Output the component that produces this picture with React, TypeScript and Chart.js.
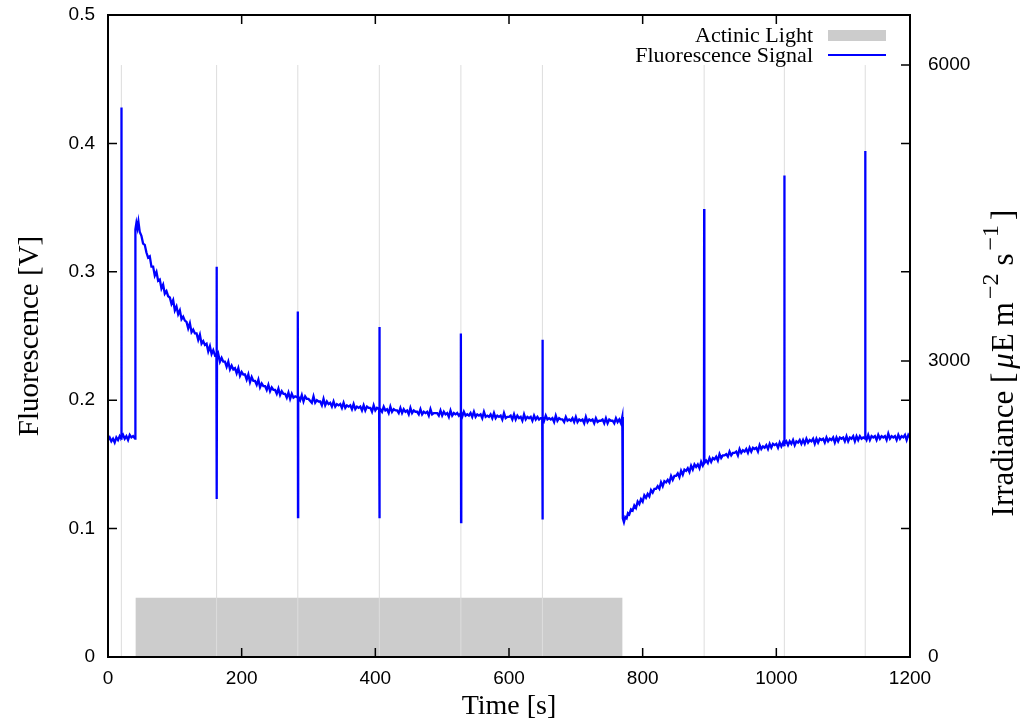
import React, { useEffect, useRef } from "react";
import { Chart, registerables } from "chart.js";
Chart.register(...registerables);

// ---- data ----
const xTickValues = [0, 200, 400, 600, 800, 1000, 1200];
const fluorTickValues = [0, 0.1, 0.2, 0.3, 0.4, 0.5];
const irradTickValues = [0, 3000, 6000];

const pulseTimes = [20, 162.5, 284, 406, 528, 650, 892, 1012, 1133];
const pulseLevel = 6000;
const actinicOn = 41;
const actinicOff = 770;
const actinicLevel = 600;

// [time s, fluorescence V]
const darkPhase: [number, number][] = [
  [0, 0.169], [2.5, 0.171], [5, 0.168], [7.5, 0.17], [10, 0.167], [12.5, 0.171], [15, 0.169],
  [17.5, 0.172], [19.7, 0.17], [20, 0.428], [20.4, 0.171], [22.5, 0.173], [25, 0.17], [27.5, 0.172],
  [30, 0.169], [32.5, 0.173], [35, 0.171], [37.5, 0.172], [40.5, 0.17],
];

const lightPhase: [number, number][] = [
  [41, 0.333], [42.5, 0.338], [44, 0.334], [45.5, 0.339], [47.5, 0.331], [50, 0.328], [52.5, 0.322],
  [55, 0.321], [57.5, 0.315], [60, 0.311], [62.5, 0.312], [65, 0.304], [67.5, 0.304], [70, 0.297],
  [72.5, 0.3], [75, 0.293], [77.5, 0.294], [80, 0.287], [82.5, 0.29], [85, 0.283], [87.5, 0.285],
  [90, 0.281], [92.5, 0.28], [95, 0.275], [97.5, 0.278], [100, 0.27], [102.5, 0.273], [105, 0.267],
  [107.5, 0.27], [110, 0.263], [112.5, 0.265], [115, 0.262], [117.5, 0.261], [120, 0.256],
  [122.5, 0.26], [125, 0.253], [127.5, 0.255], [130, 0.252], [132.5, 0.252], [135, 0.247],
  [137.5, 0.251], [140, 0.244], [142.5, 0.246], [145, 0.243], [147.5, 0.244], [150, 0.238],
  [152.5, 0.242], [155, 0.236], [157.5, 0.239], [160, 0.235], [162.2, 0.236], [162.5, 0.304],
  [162.8, 0.123], [163.1, 0.233], [165, 0.236], [167.5, 0.23], [170, 0.233], [172.5, 0.23],
  [175, 0.23], [177.5, 0.226], [180, 0.23], [182.5, 0.224], [185, 0.227], [187.5, 0.224],
  [190, 0.225], [192.5, 0.221], [195, 0.225], [197.5, 0.219], [200, 0.222], [202.5, 0.22],
  [205, 0.22], [207.5, 0.216], [210, 0.22], [212.5, 0.214], [215, 0.218], [217.5, 0.215],
  [220, 0.215], [222.5, 0.212], [225, 0.216], [227.5, 0.21], [230, 0.213], [232.5, 0.211],
  [235, 0.211], [237.5, 0.208], [240, 0.212], [242.5, 0.207], [245, 0.21], [247.5, 0.208],
  [250, 0.208], [252.5, 0.205], [255, 0.209], [257.5, 0.204], [260, 0.207], [262.5, 0.205],
  [265, 0.205], [267.5, 0.202], [270, 0.206], [272.5, 0.201], [275, 0.205], [277.5, 0.202],
  [280, 0.203], [283.7, 0.202], [284, 0.269], [284.3, 0.109], [284.6, 0.203], [287.5, 0.2],
  [290, 0.204], [292.5, 0.199], [295, 0.203], [297.5, 0.201], [300, 0.201], [305, 0.198], [307.5, 0.203],
  [310, 0.198], [312.5, 0.2], [315, 0.199], [317.5, 0.199], [320, 0.196], [322.5, 0.201], [325, 0.196],
  [327.5, 0.199], [330, 0.197], [332.5, 0.198], [335, 0.195], [337.5, 0.199], [340, 0.195],
  [342.5, 0.197], [345, 0.196], [347.5, 0.197], [350, 0.194], [352.5, 0.198], [355, 0.194],
  [357.5, 0.196], [360, 0.195], [362.5, 0.196], [365, 0.193], [367.5, 0.197], [370, 0.193],
  [372.5, 0.195], [375, 0.194], [377.5, 0.195], [380, 0.192], [382.5, 0.196], [385, 0.192],
  [387.5, 0.195], [390, 0.194], [392.5, 0.194], [395, 0.191], [397.5, 0.196], [400, 0.192],
  [402.5, 0.194], [405.7, 0.193], [406, 0.257], [406.3, 0.108], [406.6, 0.194], [410, 0.191],
  [412.5, 0.195], [415, 0.192], [417.5, 0.193], [420, 0.19], [422.5, 0.195], [425, 0.191],
  [427.5, 0.193], [430, 0.192], [432.5, 0.192], [435, 0.19], [437.5, 0.194], [440, 0.19],
  [442.5, 0.193], [445, 0.191], [447.5, 0.192], [450, 0.189], [452.5, 0.194], [455, 0.19],
  [457.5, 0.192], [460, 0.191], [462.5, 0.191], [465, 0.189], [467.5, 0.193], [470, 0.189],
  [472.5, 0.191], [475, 0.19], [477.5, 0.191], [480, 0.188], [482.5, 0.193], [485, 0.189],
  [487.5, 0.19], [490, 0.19], [492.5, 0.19], [495, 0.188], [497.5, 0.192], [500, 0.188],
  [502.5, 0.191], [505, 0.189], [507.5, 0.19], [510, 0.187], [512.5, 0.192], [515, 0.188],
  [517.5, 0.19], [520, 0.189], [522.5, 0.19], [525, 0.188], [527.7, 0.19], [528, 0.252],
  [528.3, 0.105], [528.6, 0.19], [530, 0.187], [532.5, 0.191], [535, 0.188], [537.5, 0.189],
  [540, 0.188], [542.5, 0.19], [545, 0.187], [547.5, 0.191], [550, 0.187], [552.5, 0.189],
  [555, 0.188], [557.5, 0.189], [560, 0.186], [562.5, 0.191], [565, 0.187], [567.5, 0.188],
  [570, 0.187], [572.5, 0.189], [575, 0.186], [577.5, 0.19], [580, 0.186], [582.5, 0.188],
  [585, 0.187], [587.5, 0.188], [590, 0.185], [592.5, 0.19], [595, 0.186], [597.5, 0.187],
  [600, 0.187], [602.5, 0.188], [605, 0.185], [607.5, 0.189], [610, 0.185], [612.5, 0.188],
  [615, 0.186], [617.5, 0.187], [620, 0.184], [622.5, 0.189], [625, 0.185], [627.5, 0.187],
  [630, 0.186], [632.5, 0.187], [635, 0.184], [637.5, 0.188], [640, 0.185], [642.5, 0.187],
  [645, 0.185], [647.5, 0.186], [649.7, 0.186], [650, 0.247], [650.3, 0.107], [650.6, 0.187],
  [652.5, 0.184], [655, 0.188], [657.5, 0.185], [660, 0.186], [662.5, 0.185], [665, 0.186],
  [667.5, 0.183], [670, 0.188], [672.5, 0.184], [675, 0.186], [677.5, 0.185], [680, 0.185],
  [682.5, 0.183], [685, 0.187], [687.5, 0.184], [690, 0.185], [692.5, 0.184], [695, 0.186],
  [697.5, 0.183], [700, 0.187], [702.5, 0.183], [705, 0.185], [707.5, 0.184], [710, 0.185],
  [712.5, 0.182], [715, 0.187], [717.5, 0.183], [720, 0.185], [722.5, 0.184], [725, 0.185],
  [727.5, 0.182], [730, 0.186], [732.5, 0.183], [735, 0.184], [737.5, 0.184], [740, 0.185],
  [742.5, 0.182], [745, 0.186], [747.5, 0.182], [750, 0.185], [752.5, 0.184], [755, 0.184],
  [757.5, 0.182], [760, 0.186], [762.5, 0.183], [765, 0.185], [767.5, 0.182], [769.5, 0.187],
];

const recoveryPhase: [number, number][] = [
  [770.3, 0.108], [772, 0.105], [774, 0.109], [776, 0.108], [778, 0.112], [780, 0.111],
  [782.5, 0.115], [785, 0.114], [787.5, 0.118], [790, 0.116], [792.5, 0.121], [795, 0.119],
  [797.5, 0.123], [800, 0.121], [802.5, 0.126], [805, 0.124], [807.5, 0.127], [810, 0.125],
  [812.5, 0.13], [815, 0.128], [817.5, 0.131], [820, 0.131], [822.5, 0.133], [825, 0.131],
  [827.5, 0.136], [830, 0.133], [832.5, 0.137], [835, 0.136], [837.5, 0.138], [840, 0.136],
  [842.5, 0.141], [845, 0.138], [847.5, 0.141], [850, 0.141], [852.5, 0.143], [855, 0.14],
  [857.5, 0.145], [860, 0.142], [862.5, 0.146], [865, 0.145], [867.5, 0.147], [870, 0.144],
  [872.5, 0.149], [875, 0.146], [877.5, 0.15], [880, 0.148], [882.5, 0.15], [885, 0.147],
  [887.5, 0.152], [890, 0.149], [891.7, 0.151], [892, 0.349], [892.3, 0.151], [895, 0.153],
  [897.5, 0.151], [900, 0.155], [902.5, 0.152], [905, 0.155], [907.5, 0.154], [910, 0.156],
  [912.5, 0.153], [915, 0.158], [917.5, 0.155], [920, 0.157], [922.5, 0.157], [925, 0.158],
  [927.5, 0.156], [930, 0.16], [932.5, 0.157], [935, 0.159], [937.5, 0.159], [940, 0.16],
  [942.5, 0.157], [945, 0.162], [947.5, 0.159], [950, 0.161], [952.5, 0.16], [955, 0.162],
  [957.5, 0.159], [960, 0.163], [962.5, 0.16], [965, 0.163], [967.5, 0.162], [970, 0.163],
  [972.5, 0.16], [975, 0.165], [977.5, 0.162], [980, 0.164], [982.5, 0.163], [985, 0.165],
  [987.5, 0.162], [990, 0.166], [992.5, 0.163], [995, 0.166], [997.5, 0.165], [1000, 0.166],
  [1002.5, 0.163], [1005, 0.167], [1007.5, 0.164], [1010, 0.167], [1011.7, 0.165], [1012, 0.375],
  [1012.3, 0.166], [1015, 0.168], [1017.5, 0.165], [1020, 0.168], [1022.5, 0.166], [1025, 0.169],
  [1027.5, 0.165], [1030, 0.168], [1032.5, 0.167], [1035, 0.169], [1037.5, 0.166], [1040, 0.169],
  [1042.5, 0.166], [1045, 0.17], [1047.5, 0.167], [1050, 0.169], [1052.5, 0.168], [1055, 0.17],
  [1057.5, 0.166], [1060, 0.17], [1062.5, 0.167], [1065, 0.17], [1067.5, 0.169], [1070, 0.17],
  [1072.5, 0.167], [1075, 0.171], [1077.5, 0.168], [1080, 0.17], [1082.5, 0.169], [1085, 0.171],
  [1087.5, 0.167], [1090, 0.171], [1092.5, 0.168], [1095, 0.171], [1097.5, 0.17], [1100, 0.171],
  [1102.5, 0.168], [1105, 0.172], [1107.5, 0.168], [1110, 0.171], [1112.5, 0.17], [1115, 0.172],
  [1117.5, 0.168], [1120, 0.172], [1122.5, 0.169], [1125, 0.172], [1127.5, 0.17], [1130, 0.171],
  [1132.7, 0.17], [1133, 0.394], [1133.3, 0.171], [1135, 0.169], [1137.5, 0.173], [1140, 0.169],
  [1142.5, 0.172], [1145, 0.171], [1147.5, 0.172], [1150, 0.169], [1152.5, 0.173], [1155, 0.17],
  [1157.5, 0.172], [1160, 0.171], [1162.5, 0.172], [1165, 0.169], [1167.5, 0.174], [1170, 0.17],
  [1172.5, 0.172], [1175, 0.171], [1177.5, 0.172], [1180, 0.169], [1182.5, 0.173], [1185, 0.17],
  [1187.5, 0.172], [1190, 0.171], [1192.5, 0.173], [1195, 0.169], [1197.5, 0.173], [1200, 0.171],
];

const SERIF = '"Liberation Serif", "Times New Roman", serif';
const SANS = '"Liberation Sans", Arial, sans-serif';

const framePlugin = {
  id: "frameTicks",
  afterDraw(chart: any) {
    const { ctx, chartArea } = chart;
    const { left, right, top, bottom } = chartArea;
    const sx = chart.scales.x;
    const sy = chart.scales.y;
    const sy2 = chart.scales.y2;
    const tl = 9;
    ctx.save();
    ctx.strokeStyle = "#000";
    ctx.lineWidth = 1.5;
    ctx.beginPath();
    for (const v of xTickValues) {
      const px = sx.getPixelForValue(v);
      ctx.moveTo(px, bottom);
      ctx.lineTo(px, bottom - tl);
      ctx.moveTo(px, top);
      ctx.lineTo(px, top + tl);
    }
    for (const v of fluorTickValues) {
      const py = sy.getPixelForValue(v);
      ctx.moveTo(left, py);
      ctx.lineTo(left + tl, py);
      ctx.moveTo(right, py);
      ctx.lineTo(right - tl, py);
    }
    for (const v of irradTickValues) {
      const py = sy2.getPixelForValue(v);
      ctx.moveTo(right, py);
      ctx.lineTo(right - tl, py);
    }
    ctx.stroke();
    ctx.lineWidth = 2;
    ctx.strokeRect(left, top, right - left, bottom - top);

    // legend
    const textRight = right - 97;
    const sampleL = right - 82;
    const sampleR = right - 24;
    ctx.font = `22px ${SERIF}`;
    ctx.fillStyle = "#000";
    ctx.textAlign = "right";
    ctx.textBaseline = "middle";
    ctx.fillText("Actinic Light", textRight, top + 21);
    ctx.fillText("Fluorescence Signal", textRight, top + 41);
    ctx.fillStyle = "#cccccc";
    ctx.fillRect(sampleL, top + 15, sampleR - sampleL, 11);
    ctx.strokeStyle = "#0000ff";
    ctx.lineWidth = 2;
    ctx.beginPath();
    ctx.moveTo(sampleL, top + 40);
    ctx.lineTo(sampleR, top + 40);
    ctx.stroke();

    // right axis title with superscripts, reading bottom-to-top
    const main = `31px ${SERIF}`;
    const ital = `italic 31px ${SERIF}`;
    const sup = `24px ${SERIF}`;
    const parts: { t: string; f: string; dy: number; gap: number }[] = [
      { t: "Irradiance [", f: main, dy: 0, gap: 4 },
      { t: "μ", f: ital, dy: 0, gap: 1 },
      { t: "E", f: main, dy: 0, gap: 7 },
      { t: "m", f: main, dy: 0, gap: 3 },
      { t: "−2", f: sup, dy: -13, gap: 8 },
      { t: "s", f: main, dy: 0, gap: 3 },
      { t: "−1", f: sup, dy: -13, gap: 5 },
      { t: "]", f: main, dy: 0, gap: 0 },
    ];
    let total = 0;
    for (const p of parts) {
      ctx.font = p.f;
      total += ctx.measureText(p.t).width + p.gap;
    }
    const cx = 1005;
    const cy = 363;
    ctx.translate(cx, cy);
    ctx.rotate(-Math.PI / 2);
    ctx.fillStyle = "#000";
    ctx.textAlign = "left";
    ctx.textBaseline = "middle";
    let x = -total / 2;
    for (const p of parts) {
      ctx.font = p.f;
      ctx.fillText(p.t, x, p.dy);
      x += ctx.measureText(p.t).width + p.gap;
    }
    ctx.restore();
  },
};

export default function App() {
  const ref = useRef<HTMLCanvasElement | null>(null);
  useEffect(() => {
    document.body.style.margin = "0";
    const fluor = [...darkPhase, ...lightPhase, ...recoveryPhase].map(([x, y]) => ({ x, y }));
    const actinic = [
      { x: actinicOn, y: actinicLevel },
      { x: actinicOff, y: actinicLevel },
    ];
    const pulses: { x: number; y: number | null }[] = [];
    for (const t of pulseTimes) {
      pulses.push({ x: t, y: 0 }, { x: t, y: pulseLevel }, { x: t, y: null });
    }
    const zeroPad = (s: any) => {
      s.paddingTop = 0;
      s.paddingBottom = 0;
      s.paddingLeft = 0;
      s.paddingRight = 0;
    };
    const chart = new Chart(ref.current as HTMLCanvasElement, {
      type: "line",
      data: {
        datasets: [
          {
            label: "Fluorescence Signal",
            data: fluor,
            yAxisID: "y",
            borderColor: "#0000ff",
            borderWidth: 2.3,
            pointRadius: 0,
            fill: false,
            tension: 0,
            order: 0,
          },
          {
            label: "Pulses",
            data: pulses as any,
            yAxisID: "y2",
            borderColor: "#dddddd",
            borderWidth: 1,
            pointRadius: 0,
            spanGaps: false,
            fill: false,
            order: 1,
          },
          {
            label: "Actinic Light",
            data: actinic,
            yAxisID: "y2",
            borderColor: "rgba(0,0,0,0)",
            borderWidth: 0,
            backgroundColor: "#cccccc",
            fill: "origin",
            pointRadius: 0,
            order: 2,
          },
        ],
      },
      options: {
        animation: false,
        responsive: false,
        maintainAspectRatio: false,
        layout: { padding: { top: 15, left: 0, right: 0, bottom: 0 } },
        plugins: { legend: { display: false }, tooltip: { enabled: false } },
        scales: {
          x: {
            type: "linear",
            min: 0,
            max: 1200,
            afterBuildTicks: (s: any) => {
              s.ticks = xTickValues.map((v) => ({ value: v }));
            },
            afterFit: (s: any) => {
              s.height = 69;
              zeroPad(s);
            },
            grid: { display: false, drawTicks: false },
            border: { display: false },
            ticks: {
              color: "#000",
              font: { family: SANS, size: 19 },
              padding: 10,
              maxRotation: 0,
              callback: (v: any) => String(v),
            },
            title: {
              display: true,
              text: "Time [s]",
              color: "#000",
              font: { family: SERIF, size: 28 },
              padding: { top: 0, bottom: 3 },
            },
          },
          y: {
            type: "linear",
            position: "left",
            min: 0,
            max: 0.5,
            afterBuildTicks: (s: any) => {
              s.ticks = fluorTickValues.map((v) => ({ value: v }));
            },
            afterFit: (s: any) => {
              s.width = 108;
              zeroPad(s);
            },
            grid: { display: false, drawTicks: false },
            border: { display: false },
            ticks: {
              color: "#000",
              font: { family: SANS, size: 19 },
              padding: 13,
              callback: (v: any) => String(Math.round(v * 10) / 10),
            },
            title: {
              display: true,
              text: "Fluorescence [V]",
              color: "#000",
              font: { family: SERIF, size: 29 },
              padding: { top: 13, bottom: 0 },
            },
          },
          y2: {
            type: "linear",
            position: "right",
            min: 0,
            max: 6507,
            afterBuildTicks: (s: any) => {
              s.ticks = irradTickValues.map((v) => ({ value: v }));
            },
            afterFit: (s: any) => {
              s.width = 111;
              zeroPad(s);
            },
            grid: { display: false, drawTicks: false },
            border: { display: false },
            ticks: {
              color: "#000",
              font: { family: SANS, size: 19 },
              padding: 18,
              callback: (v: any) => String(v),
            },
          },
        },
      },
      plugins: [framePlugin],
    } as any);
    return () => chart.destroy();
  }, []);
  return (
    <div style={{ width: 1021, height: 726 }}>
      <canvas ref={ref} width={1021} height={726} />
    </div>
  );
}
